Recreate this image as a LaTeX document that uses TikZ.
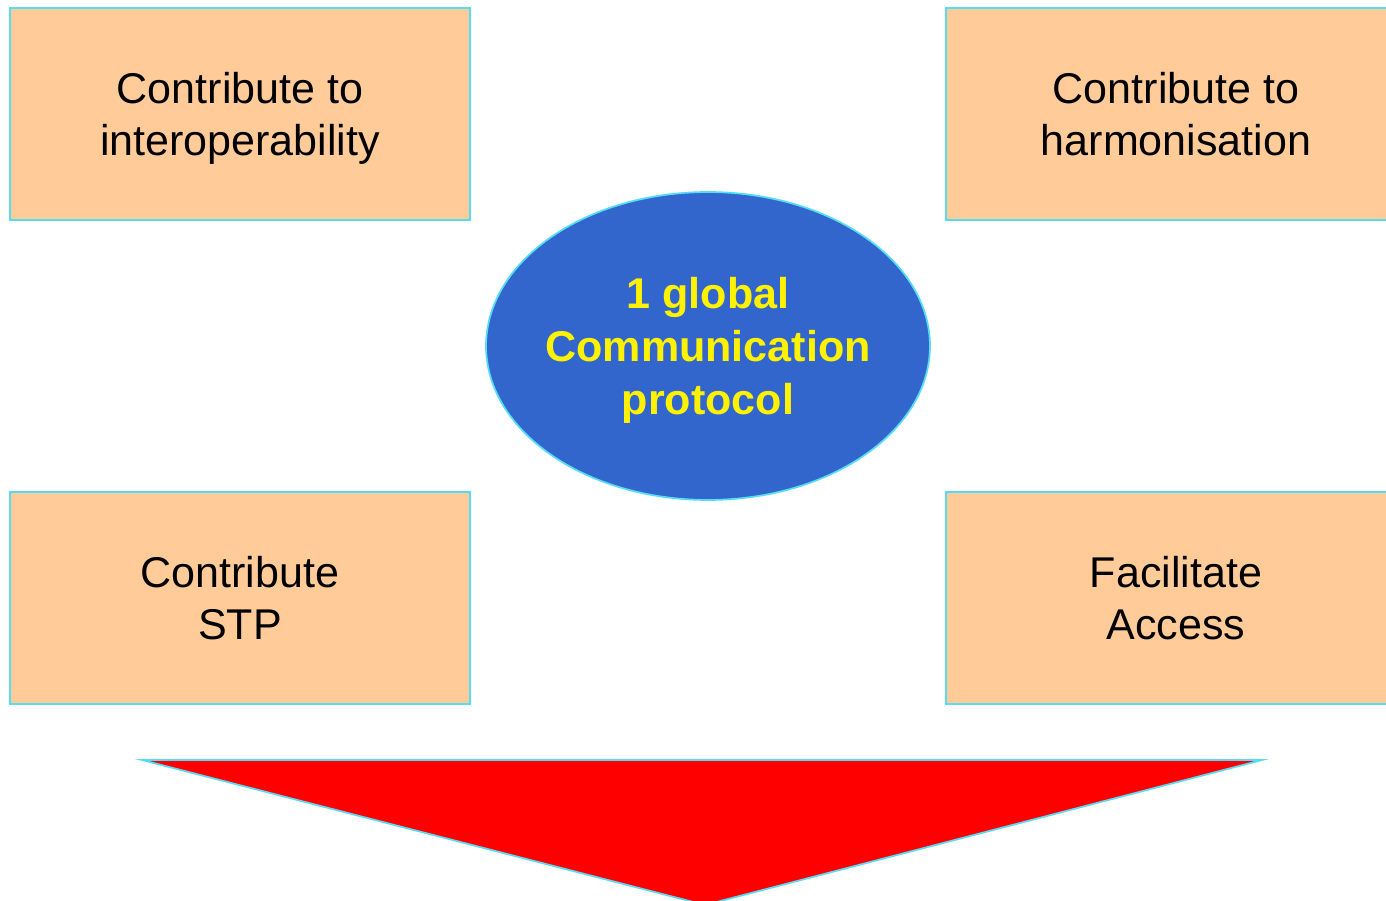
\documentclass[tikz,border=0pt]{standalone}
\usepackage{fontspec}
\setmainfont{Liberation Sans}
\usetikzlibrary{shapes.geometric,positioning}

\definecolor{peach}{HTML}{FFCC99}
\definecolor{edgecyan}{HTML}{55DDF5}
\definecolor{hubblue}{HTML}{3366CC}

\begin{document}
\begin{tikzpicture}[x=0.02cm,y=-0.02cm,semithick,
  goal/.style={rectangle,draw=edgecyan,fill=peach,line width=1pt,minimum width=9.2cm,minimum height=4.24cm,align=center,
    text depth=0pt,font=\fontsize{24.5}{30}\selectfont},
  hub/.style={ellipse,draw=edgecyan,fill=hubblue,line width=1pt,minimum width=8.88cm,minimum height=6.16cm,
    inner xsep=-0.2cm,inner ysep=0pt,text depth=0pt,
    align=center,text=yellow,font=\fontsize{24.5}{30}\selectfont\bfseries}]

\useasboundingbox (0,0) rectangle (1386,901);
\clip (0,0) rectangle (1386,901);

\node[hub]  (P)  at (708,346) {1 global\\Communication\\protocol};
\node[goal] (I)  at (240,114) {Contribute to\\interoperability};
\node[goal] (H)  at (1176,114) {Contribute to\\harmonisation};
\node[goal] (S)  at (240,598) {Contribute\\STP};
\node[goal] (A)  at (1176,598) {Facilitate\\Access};

% big arrow head
\coordinate (L) at (142,760);
\coordinate (R) at (1262,760);
\coordinate (T) at (705,905);
\draw[draw=edgecyan,fill=red,line width=1pt] (L) -- (R) -- (T) -- cycle;

\end{tikzpicture}
\end{document}
